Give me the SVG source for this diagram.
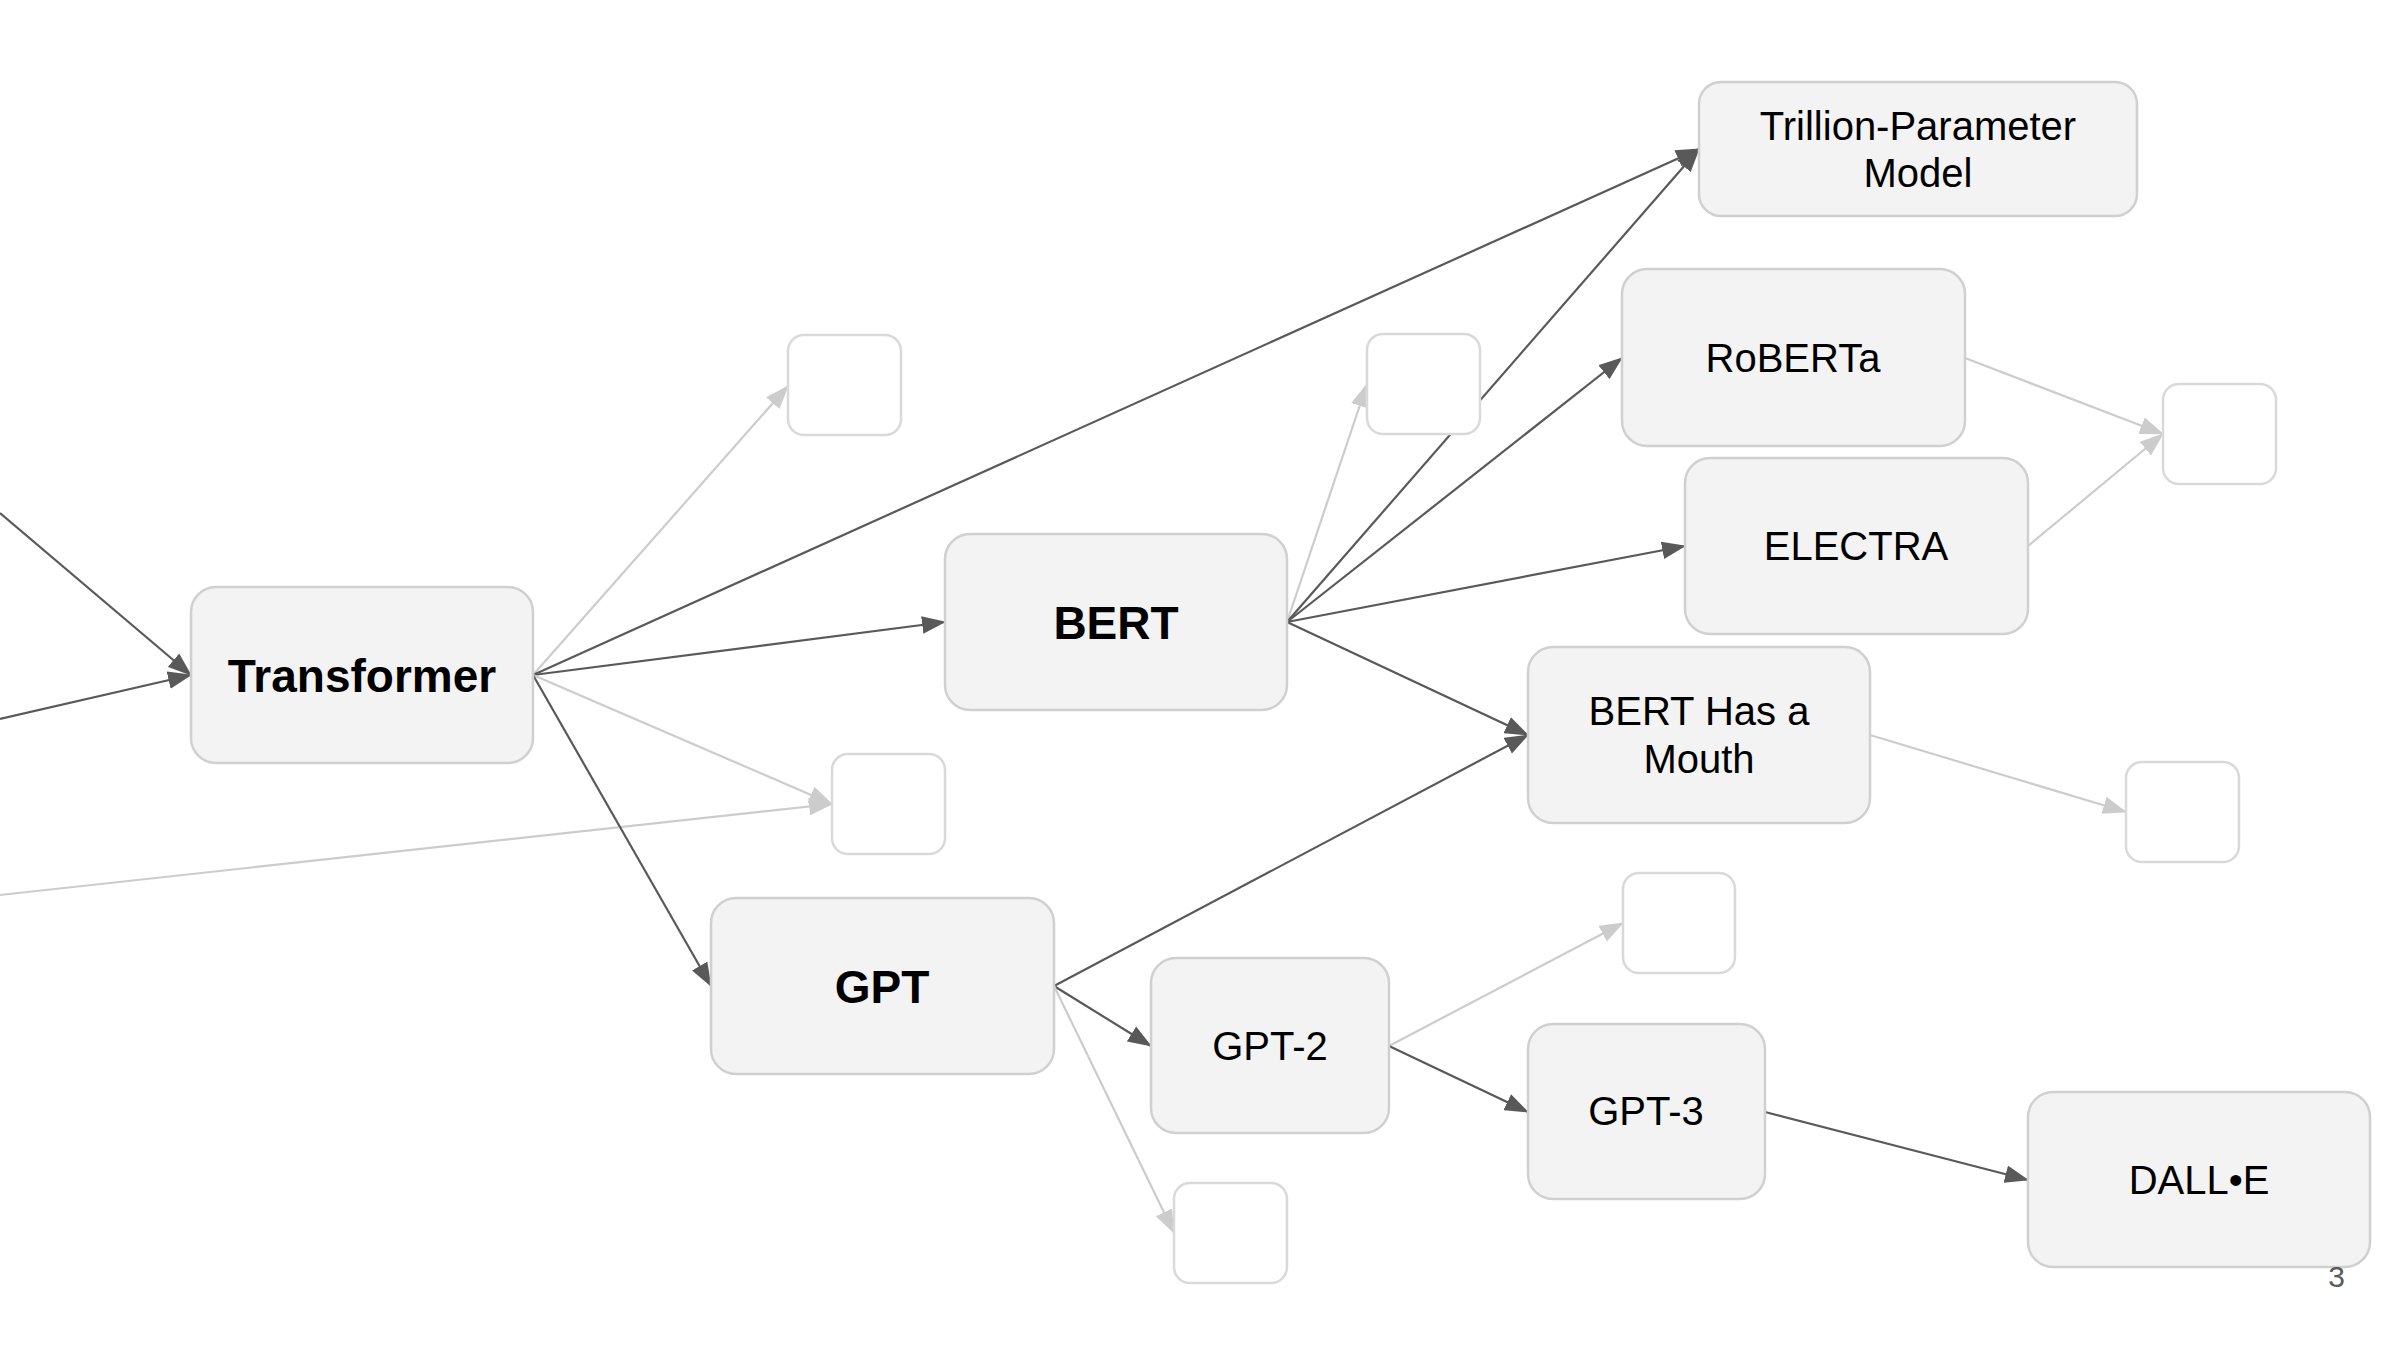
<svg xmlns="http://www.w3.org/2000/svg" width="2400" height="1350" viewBox="0 0 2400 1350">
  <defs>
    <marker id="ad" markerUnits="userSpaceOnUse" markerWidth="24" markerHeight="18" viewBox="0 0 23 17" refX="22" refY="8.5" orient="auto">
      <path d="M0,0 L23,8.5 L0,17 z" fill="#595959"/>
    </marker>
    <marker id="al" markerUnits="userSpaceOnUse" markerWidth="24" markerHeight="18" viewBox="0 0 23 17" refX="22" refY="8.5" orient="auto">
      <path d="M0,0 L23,8.5 L0,17 z" fill="#cccccc"/>
    </marker>
  </defs>
  <style>
    .node rect { fill: #f3f3f3; stroke: #d0d0d0; stroke-width: 2.5; }
    .empty rect { fill: #ffffff; stroke: #d9d9d9; stroke-width: 2.5; }
    .t { font-family: "Liberation Sans", Arial, sans-serif; font-size: 40px; fill: #000000; text-anchor: middle; }
    .b { font-family: "Liberation Sans", Arial, sans-serif; font-size: 46px; font-weight: bold; fill: #000000; text-anchor: middle; }
    .dark { stroke: #595959; stroke-width: 2.2; fill: none; marker-end: url(#ad); }
    .light { stroke: #cccccc; stroke-width: 2.2; fill: none; marker-end: url(#al); }
    .pg { font-family: "Liberation Sans", Arial, sans-serif; font-size: 30px; fill: #595959; text-anchor: end; }
  </style>
  <rect width="2400" height="1350" fill="#ffffff"/>

  <g id="connectors">
    <line class="dark" x1="0" y1="513" x2="191" y2="675"/>
    <line class="dark" x1="0" y1="719" x2="191" y2="675"/>
    <line class="light" x1="0" y1="895" x2="832" y2="804"/>

    <line class="light" x1="533" y1="675" x2="788" y2="386"/>
    <line class="dark" x1="533" y1="675" x2="1699" y2="149"/>
    <line class="dark" x1="533" y1="675" x2="945" y2="622"/>
    <line class="light" x1="533" y1="675" x2="832" y2="804"/>
    <line class="dark" x1="533" y1="675" x2="711" y2="986"/>

    <line class="light" x1="1287" y1="622" x2="1367" y2="384"/>
    <line class="dark" x1="1287" y1="622" x2="1699" y2="149"/>
    <line class="dark" x1="1287" y1="622" x2="1622" y2="358"/>
    <line class="dark" x1="1287" y1="622" x2="1685" y2="546"/>
    <line class="dark" x1="1287" y1="622" x2="1528" y2="735"/>

    <line class="dark" x1="1054" y1="986" x2="1528" y2="735"/>
    <line class="dark" x1="1054" y1="986" x2="1151" y2="1046"/>
    <line class="light" x1="1054" y1="986" x2="1174" y2="1233"/>

    <line class="light" x1="1389" y1="1046" x2="1623" y2="923"/>
    <line class="dark" x1="1389" y1="1046" x2="1528" y2="1112"/>

    <line class="dark" x1="1765" y1="1112" x2="2028" y2="1180"/>

    <line class="light" x1="1965" y1="358" x2="2163" y2="434"/>
    <line class="light" x1="2028" y1="546" x2="2163" y2="434"/>
    <line class="light" x1="1870" y1="735" x2="2126" y2="812"/>
  </g>

  <g id="transformer" class="node">
    <rect x="191" y="587" width="342" height="176" rx="25"/>
    <text class="b" x="362" y="692">Transformer</text>
  </g>
  <g id="bert" class="node">
    <rect x="945" y="534" width="342" height="176" rx="25"/>
    <text class="b" x="1116" y="639">BERT</text>
  </g>
  <g id="gpt" class="node">
    <rect x="711" y="898" width="343" height="176" rx="25"/>
    <text class="b" x="882" y="1003">GPT</text>
  </g>
  <g id="trillion" class="node">
    <rect x="1699" y="82" width="438" height="134" rx="22"/>
    <text class="t" x="1918" y="140">Trillion-Parameter</text>
    <text class="t" x="1918" y="187">Model</text>
  </g>
  <g id="roberta" class="node">
    <rect x="1622" y="269" width="343" height="177" rx="25"/>
    <text class="t" x="1793" y="372">RoBERTa</text>
  </g>
  <g id="electra" class="node">
    <rect x="1685" y="458" width="343" height="176" rx="25"/>
    <text class="t" x="1856" y="560">ELECTRA</text>
  </g>
  <g id="bert-has-a-mouth" class="node">
    <rect x="1528" y="647" width="342" height="176" rx="25"/>
    <text class="t" x="1699" y="725">BERT Has a</text>
    <text class="t" x="1699" y="773">Mouth</text>
  </g>
  <g id="gpt-2" class="node">
    <rect x="1151" y="958" width="238" height="175" rx="25"/>
    <text class="t" x="1270" y="1060">GPT-2</text>
  </g>
  <g id="gpt-3" class="node">
    <rect x="1528" y="1024" width="237" height="175" rx="25"/>
    <text class="t" x="1646" y="1125">GPT-3</text>
  </g>
  <g id="dalle" class="node">
    <rect x="2028" y="1092" width="342" height="175" rx="25"/>
    <text class="t" x="2199" y="1194">DALL•E</text>
  </g>

  <g id="empty-1" class="empty"><rect x="788" y="335" width="113" height="100" rx="16"/></g>
  <g id="empty-2" class="empty"><rect x="832" y="754" width="113" height="100" rx="16"/></g>
  <g id="empty-3" class="empty"><rect x="1367" y="334" width="113" height="100" rx="16"/></g>
  <g id="empty-4" class="empty"><rect x="2163" y="384" width="113" height="100" rx="16"/></g>
  <g id="empty-5" class="empty"><rect x="2126" y="762" width="113" height="100" rx="16"/></g>
  <g id="empty-6" class="empty"><rect x="1623" y="873" width="112" height="100" rx="16"/></g>
  <g id="empty-7" class="empty"><rect x="1174" y="1183" width="113" height="100" rx="16"/></g>

  <text class="pg" x="2345" y="1287">3</text>
</svg>
